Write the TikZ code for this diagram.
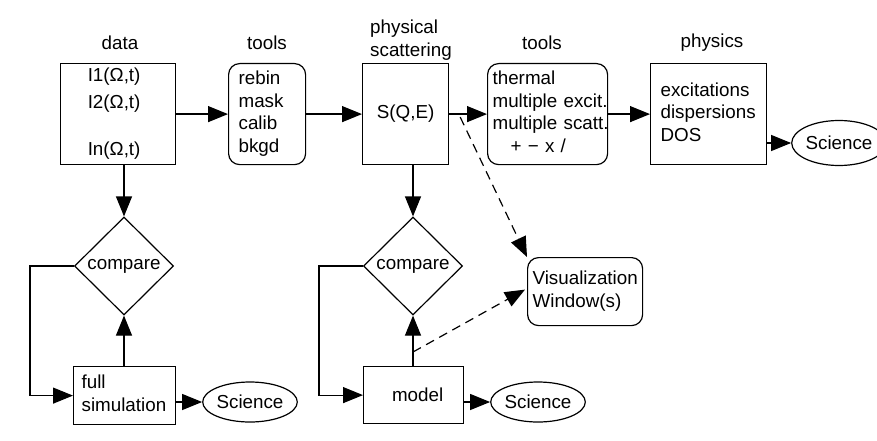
\documentclass[tikz,border=0pt]{standalone}
\usepackage{fontspec}
\setmainfont{Liberation Sans}
\usetikzlibrary{shapes.geometric,arrows.meta,calc}
\newcommand{\lines}[2][l]{\begin{tabular}{@{}#1@{}}#2\end{tabular}}
\begin{document}
\begin{tikzpicture}[x=1pt,y=-1pt,
  every node/.style={font=\fontsize{18.8}{22.6}\selectfont},
  box/.style={draw, line width=1.2pt, inner sep=0pt, anchor=north west},
  rbox/.style={box, rounded corners=11pt},
  dia/.style={draw, diamond, line width=1.2pt, inner sep=0pt, aspect=1},
  sci/.style={draw, ellipse, line width=1.2pt, inner sep=0pt},
  lbl/.style={inner sep=0pt},
  arr/.style={line width=1.2pt, -{Triangle[length=20pt,width=16pt]}},
  darr/.style={line width=1.2pt, dash pattern=on 9pt off 6pt, -{Triangle[length=20pt,width=16pt]}}]
\useasboundingbox (0,0) rectangle (877,441);
% top row
\node[box, minimum width=115pt, minimum height=101pt] (data) at (60,63)
  {\raisebox{-3pt}{\hspace*{-8pt}\lines[c]{I1(Ω,t)\\[4pt]I2(Ω,t)\\[25pt]In(Ω,t)}}};
\node[rbox, minimum width=77pt, minimum height=101pt, align=left, text width=57pt, inner xsep=10pt] (tools1) at (228,63)
  {\raisebox{-3pt}{\lines{rebin\\mask\\calib\\bkgd}}};
\node[box, minimum width=86pt, minimum height=101pt] (phys) at (362,63) {\raisebox{-2pt}{S(Q,E)}};
\node[rbox, minimum width=120pt, minimum height=101pt, align=left, text width=110pt, inner xsep=5pt] (tools2) at (487,63)
  {\raisebox{-1pt}{\lines{thermal\\multiple excit.\\multiple scatt.\\\hspace*{18pt}+ − x /}}};
\node[box, minimum width=116pt, minimum height=101pt, align=left, text width=96pt, inner xsep=10pt] (physics) at (650,63)
  {\raisebox{-1pt}{\lines{excitations\\dispersions\\DOS}}};
\node[sci, minimum width=72pt, minimum height=45pt] (sci3) at (839,143) {Science};
% labels
\node[lbl] (ldata) at (120,43) {data};
\node[lbl] (ltools1) at (267,43) {tools};
\node[lbl, align=left, anchor=west] (lphys) at (370,40) {physical\\scattering};
\node[lbl] (ltools2) at (542,43) {tools};
\node[lbl] (lphysics) at (712,43) {physics};
% bottom left
\node[dia, minimum width=99pt, minimum height=98pt] (cmp1) at (124,266) {compare};
\node[box, minimum width=102pt, minimum height=58pt, align=left, text width=86pt, inner xsep=8pt] (fullsim) at (73,366)
  {\lines{full\\simulation}};
\node[sci, minimum width=75pt, minimum height=40pt] (sci1) at (250,402) {Science};
% bottom middle
\node[dia, minimum width=99pt, minimum height=98pt] (cmp2) at (413,266) {compare};
\node[box, minimum width=100pt, minimum height=57pt] (model) at (363,366) {\hspace*{8pt}model};
\node[sci, minimum width=74pt, minimum height=40pt] (sci2) at (538,402) {Science};
\node[rbox, minimum width=115pt, minimum height=68pt, align=left, text width=105pt, inner xsep=5pt] (vis) at (527,257)
  {\lines{Visualization\\Window(s)}};
% connectors
\draw[arr] (data.east) -- (tools1.west);
\draw[arr] (tools1.east) -- (phys.west);
\draw[arr] (phys.east) -- (tools2.west);
\draw[arr] (tools2.east) -- (physics.west);
\draw[arr] (sci3.west -| physics.east) -- (sci3.west);
\draw[arr] (data.south -| cmp1.north) -- (cmp1.north);
\draw[arr] (fullsim.north -| cmp1.south) -- (cmp1.south);
\draw[arr] (cmp1.west) -- ++(-44,0) |- (fullsim.west);
\draw[arr] (sci1.west -| fullsim.east) -- (sci1.west);
\draw[arr] (phys.south -| cmp2.north) -- (cmp2.north);
\draw[arr] (model.north -| cmp2.south) -- (cmp2.south);
\draw[arr] (cmp2.west) -- ++(-44,0) |- (model.west);
\draw[arr] (sci2.west -| model.east) -- (sci2.west);
\coordinate (d1) at ($(phys.east)+(11,3)$);
\coordinate (d2) at (413,352);
\draw[darr] (d1) -- (vis.north west);
\draw[darr] (d2) -- ($(vis.west)+(-2,-2)$);
\end{tikzpicture}
\end{document}
